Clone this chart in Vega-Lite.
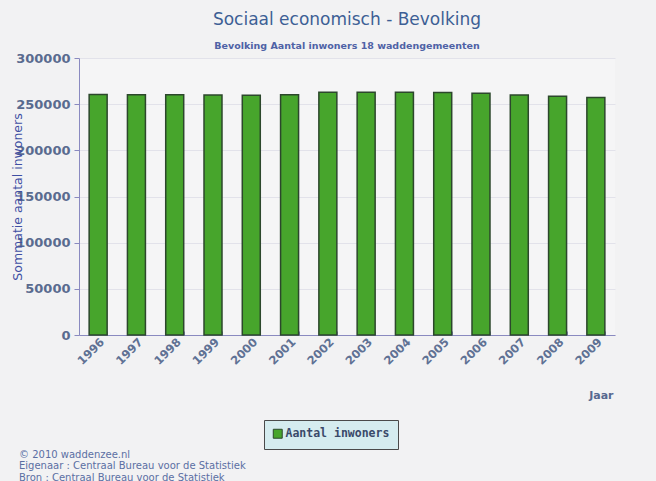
{
  "$schema": "https://vega.github.io/schema/vega-lite/v6.json",
  "background": "#f2f2f3",
  "autosize": {"type": "pad"},
  "padding": {"left": 10, "top": 10, "right": 41, "bottom": 0},
  "config": {
    "view": {"stroke": null, "fill": "#f5f5f6"},
    "font": "DejaVu Sans"
  },
  "title": {
    "text": ["© 2010 waddenzee.nl", "Eigenaar :  Centraal Bureau voor de Statistiek", "Bron :  Centraal Bureau voor de Statistiek"],
    "orient": "bottom",
    "anchor": "start",
    "frame": "bounds",
    "fontSize": 10,
    "fontWeight": "normal",
    "color": "#5b6fa3",
    "lineHeight": 11.5,
    "offset": 0,
    "dx": 8
  },
  "vconcat": [
    {
      "width": 536,
      "height": 277,
      "title": {
        "text": "Sociaal economisch - Bevolking",
        "subtitle": "Bevolking Aantal inwoners 18 waddengemeenten",
        "anchor": "middle",
        "frame": "group",
        "fontSize": 17,
        "fontWeight": "normal",
        "color": "#3d5f95",
        "subtitleFontSize": 9.5,
        "subtitleFontWeight": "bold",
        "subtitleColor": "#4f62a6",
        "subtitlePadding": 12,
        "offset": 1
      },
      "data": {
        "values": [
          {"Jaar": "1996", "Aantal inwoners": 260500, "serie": "Aantal inwoners"},
          {"Jaar": "1997", "Aantal inwoners": 260300, "serie": "Aantal inwoners"},
          {"Jaar": "1998", "Aantal inwoners": 260200, "serie": "Aantal inwoners"},
          {"Jaar": "1999", "Aantal inwoners": 259900, "serie": "Aantal inwoners"},
          {"Jaar": "2000", "Aantal inwoners": 259700, "serie": "Aantal inwoners"},
          {"Jaar": "2001", "Aantal inwoners": 260300, "serie": "Aantal inwoners"},
          {"Jaar": "2002", "Aantal inwoners": 262800, "serie": "Aantal inwoners"},
          {"Jaar": "2003", "Aantal inwoners": 263000, "serie": "Aantal inwoners"},
          {"Jaar": "2004", "Aantal inwoners": 262900, "serie": "Aantal inwoners"},
          {"Jaar": "2005", "Aantal inwoners": 262700, "serie": "Aantal inwoners"},
          {"Jaar": "2006", "Aantal inwoners": 261800, "serie": "Aantal inwoners"},
          {"Jaar": "2007", "Aantal inwoners": 259800, "serie": "Aantal inwoners"},
          {"Jaar": "2008", "Aantal inwoners": 258500, "serie": "Aantal inwoners"},
          {"Jaar": "2009", "Aantal inwoners": 257200, "serie": "Aantal inwoners"}
        ]
      },
      "mark": {"type": "bar", "stroke": "#2c472c", "strokeWidth": 1.5},
      "encoding": {
        "x": {
          "field": "Jaar",
          "type": "ordinal",
          "scale": {"paddingInner": 0.53, "paddingOuter": 0.265},
          "axis": {
            "title": "Jaar",
            "titleAnchor": "end",
            "titleAlign": "right",
            "titleX": 534,
            "titleY": 60,
            "titleBaseline": "middle",
            "titleFontSize": 11,
            "titleFontWeight": "bold",
            "titleColor": "#56688f",
            "labelAngle": -45,
            "labelFontSize": 11.5,
            "labelFontWeight": "bold",
            "labelColor": "#5f7194",
            "labelPadding": 5,
            "tickBand": "extent",
            "tickSize": -4,
            "tickColor": "#8a8ac0",
            "domainColor": "#8a8ac0",
            "domainWidth": 1
          }
        },
        "y": {
          "field": "Aantal inwoners",
          "type": "quantitative",
          "scale": {"domain": [0, 300000]},
          "axis": {
            "title": "Sommatie aantal inwoners",
            "titleX": -55,
            "titleFontSize": 12.5,
            "titleFontWeight": "normal",
            "titleColor": "#3f4fa3",
            "values": [0, 50000, 100000, 150000, 200000, 250000, 300000],
            "format": "d",
            "labelFontSize": 13,
            "labelFontWeight": "bold",
            "labelColor": "#5a6b8f",
            "labelPadding": 4,
            "tickSize": 5,
            "tickColor": "#8a8ac0",
            "domainColor": "#8a8ac0",
            "gridColor": "#e2e2ea",
            "gridWidth": 1
          }
        },
        "color": {
          "field": "serie",
          "type": "nominal",
          "scale": {"range": ["#47a52c"]},
          "legend": {
            "title": null,
            "orient": "none",
            "legendX": 185,
            "legendY": 362,
            "direction": "horizontal",
            "fillColor": "#d5ecef",
            "strokeColor": "#4a4a4a",
            "padding": 8,
            "symbolType": "square",
            "symbolSize": 80,
            "symbolStrokeColor": "#2c472c",
            "symbolStrokeWidth": 1,
            "labelFont": "DejaVu Sans Mono",
            "labelFontSize": 11.5,
            "labelFontWeight": "bold",
            "labelColor": "#3a4a6a",
            "labelOffset": 2
          }
        }
      }
    }
  ]
}
